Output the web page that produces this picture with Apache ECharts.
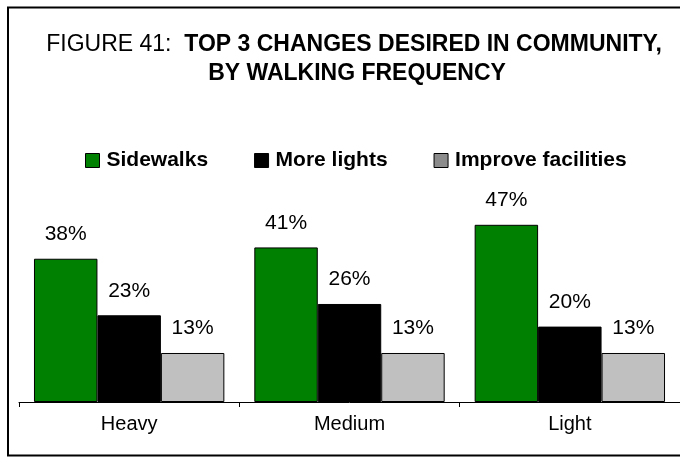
<!DOCTYPE html>
<html>
<head>
<meta charset="utf-8">
<script src="https://cdn.jsdelivr.net/npm/echarts@6/dist/echarts.min.js"></script>
<style>
  html, body { margin: 0; padding: 0; background: #fff; }
  #chart { width: 680px; height: 457px; }
</style>
</head>
<body>
<div id="chart"></div>
<script>
// Walking frequency groups and the share choosing each change (%)
var categories = ['Heavy', 'Medium', 'Light'];
var seriesNames = ['Sidewalks', 'More lights', 'Improve facilities'];
var sidewalks = [38, 41, 47];
var moreLights = [23, 26, 20];
var improveFacilities = [13, 13, 13];

var FONT = '"Liberation Sans", Arial, Helvetica, sans-serif';
var colors = ['#008000', '#000000', '#c0c0c0'];

var chart = echarts.init(document.getElementById('chart'), null, { renderer: 'canvas' });

function barSeries(name, data, color) {
  return {
    name: name,
    type: 'bar',
    data: data,
    barGap: '0%',
    barCategoryGap: '13.6%',
    itemStyle: { color: color, borderColor: '#000', borderWidth: 1 },
    label: {
      show: true,
      position: 'top',
      distance: 14,
      formatter: '{c}%',
      color: '#000',
      fontFamily: FONT,
      fontSize: 21
    },
    emphasis: { disabled: true }
  };
}

chart.setOption({
  backgroundColor: '#fff',
  animation: false,
  title: [
    {
      text: '{n|FIGURE 41:  }{b|TOP 3 CHANGES DESIRED IN COMMUNITY,}',
      left: 354,
      top: 33,
      textAlign: 'center',
      padding: 0,
      textStyle: {
        rich: {
          n: { fontFamily: FONT, fontSize: 23, fontWeight: 'normal', color: '#000' },
          b: { fontFamily: FONT, fontSize: 23, fontWeight: 'bold', color: '#000' }
        }
      }
    },
    {
      text: 'BY WALKING FREQUENCY',
      left: 357,
      top: 62,
      textAlign: 'center',
      padding: 0,
      textStyle: { fontFamily: FONT, fontSize: 23, fontWeight: 'bold', color: '#000' }
    }
  ],
  legend: {
    left: 85,
    top: 150,
    padding: 0,
    itemWidth: 14,
    itemHeight: 14,
    itemGap: 46,
    selectedMode: false,
    icon: 'rect',
    textStyle: { fontFamily: FONT, fontSize: 21, fontWeight: 'bold', color: '#000', padding: [0, 0, 0, 2] },
    data: [
      { name: seriesNames[0], itemStyle: { color: colors[0], borderColor: '#000', borderWidth: 1 } },
      { name: seriesNames[1], itemStyle: { color: colors[1], borderColor: '#000', borderWidth: 1 } },
      { name: seriesNames[2], itemStyle: { color: '#8c8c8c', borderColor: '#000', borderWidth: 1 } }
    ]
  },
  grid: { left: 19, right: 0, top: 213.5, bottom: 55, containLabel: false },
  xAxis: {
    type: 'category',
    data: categories,
    axisLine: { show: true, lineStyle: { color: '#000', width: 1 } },
    axisTick: { show: true, length: 5, lineStyle: { color: '#000' } },
    axisLabel: { color: '#000', fontFamily: FONT, fontSize: 20, margin: 12 }
  },
  yAxis: {
    type: 'value',
    min: 0,
    max: 50,
    show: false,
    splitLine: { show: false }
  },
  series: [
    barSeries(seriesNames[0], sidewalks, colors[0]),
    barSeries(seriesNames[1], moreLights, colors[1]),
    barSeries(seriesNames[2], improveFacilities, colors[2])
  ],
  graphic: [
    {
      type: 'rect',
      shape: { x: 8, y: 7.5, width: 690, height: 448 },
      style: { fill: 'none', stroke: '#000', lineWidth: 2 },
      silent: true,
      z: 100
    }
  ]
});
</script>
</body>
</html>
